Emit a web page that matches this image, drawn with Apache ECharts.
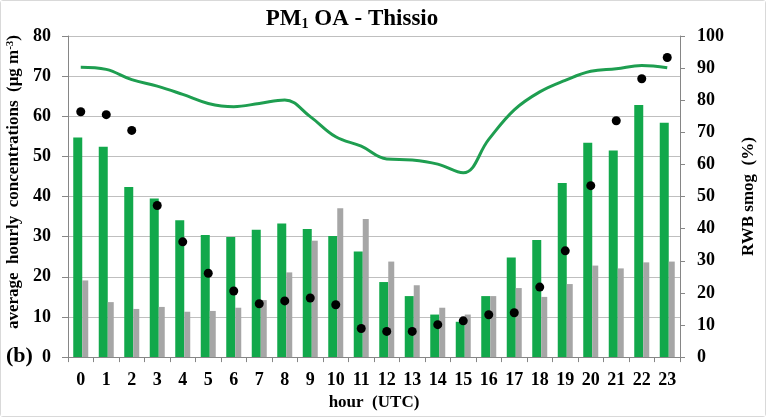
<!DOCTYPE html>
<html>
<head>
<meta charset="utf-8">
<script src="https://cdn.jsdelivr.net/npm/echarts@6/dist/echarts.min.js"></script>
<style>
html,body{margin:0;padding:0;background:#fff;}
#c{width:764px;height:415px;border:1px solid #d9d9d9;border-radius:3px;}
</style>
</head>
<body>
<div id="c"></div>
<script>
const hours = ['0','1','2','3','4','5','6','7','8','9','10','11','12','13','14','15','16','17','18','19','20','21','22','23'];
const greenBars = [54.7,52.4,42.4,39.5,34.1,30.4,29.9,31.7,33.3,31.9,30.2,26.3,18.7,15.2,10.6,8.8,15.2,24.8,29.2,43.4,53.4,51.5,62.8,58.4];
const grayBars = [19.1,13.7,12.0,12.5,11.3,11.5,12.3,14.2,21.1,29.0,37.1,34.4,23.8,17.9,12.3,10.6,15.2,17.2,15.0,18.2,22.8,22.1,23.6,23.8];
const rwbDots = [76.4,75.5,70.6,47.2,35.9,26.1,20.6,16.6,17.5,18.4,16.3,8.9,8.0,8.0,10.1,11.3,13.2,13.8,21.8,33.1,53.4,73.6,86.7,93.3];
const greenLine = [90.3,89.6,86.4,84.4,81.8,79.0,78.0,79.0,80.1,74.9,68.6,65.7,61.7,61.4,60.1,57.4,67.8,77.0,82.6,86.2,89.0,89.8,90.8,90.1];
const leftTicks = {min:0,max:80,interval:10};
const rightTicks = {min:0,max:100,interval:10};

const FONT = '"Liberation Serif","Times New Roman",serif';
const chart = echarts.init(document.getElementById('c'), null, {renderer:'canvas'});
const axisGray = '#868686';
chart.setOption({
  animation:false,
  backgroundColor:'#fff',
  title:{
    text:'{a|PM}{s|1}{a| OA - Thissio}',
    left:346, top:1, textAlign:'center',
    textStyle:{
      rich:{
        a:{fontFamily:FONT,fontWeight:'bold',fontSize:23,color:'#000'},
        s:{fontFamily:FONT,fontWeight:'bold',fontSize:14,color:'#000',padding:[10,0,0,0]}
      }
    }
  },
  grid:{left:67,right:83,top:35,bottom:56,containLabel:false},
  xAxis:{
    type:'category', data:hours,
    name:'hour  (UTC)', nameLocation:'middle', nameGap:36,
    nameTextStyle:{fontFamily:FONT,fontWeight:'bold',fontSize:17,color:'#000'},
    axisLine:{lineStyle:{color:axisGray}},
    axisTick:{show:true,length:5,lineStyle:{color:axisGray}},
    axisLabel:{fontFamily:FONT,fontWeight:'bold',fontSize:18,color:'#000',margin:14,interval:0}
  },
  yAxis:[
    {type:'value',min:leftTicks.min,max:leftTicks.max,interval:leftTicks.interval,
     axisLine:{show:true,lineStyle:{color:axisGray}},
     axisTick:{show:true,length:6,lineStyle:{color:axisGray}},
     axisLabel:{fontFamily:FONT,fontWeight:'bold',fontSize:18,color:'#000',margin:17},
     splitLine:{show:true,lineStyle:{color:'#bfbfbf',width:1}}
    },
    {type:'value',min:rightTicks.min,max:rightTicks.max,interval:rightTicks.interval,position:'right',
     name:'RWB smog  (%)', nameLocation:'middle', nameGap:60, nameRotate:90,
     nameTextStyle:{fontFamily:FONT,fontWeight:'bold',fontSize:17,color:'#000'},
     axisLine:{show:true,lineStyle:{color:axisGray}},
     axisTick:{show:true,length:5,lineStyle:{color:axisGray}},
     axisLabel:{fontFamily:FONT,fontWeight:'bold',fontSize:18,color:'#000',margin:17},
     splitLine:{show:false}
    }
  ],
  graphic:[
    {type:'text',x:13,y:181,rotation:Math.PI/2,
     style:{text:'{a|average  hourly  concentrations  }{a|(μg m}{p|-3}{a|)}',
       align:'center',verticalAlign:'middle',
       rich:{
         a:{fontFamily:FONT,fontWeight:'bold',fontSize:17,fill:'#000'},
         p:{fontFamily:FONT,fontWeight:'bold',fontSize:11,fill:'#000',padding:[0,0,8,0]}
       }}},
    {type:'text',x:5,y:344,
     style:{text:'(b)',fontFamily:FONT,fontWeight:'bold',fontSize:22,fill:'#000'}}
  ],
  series:[
    {type:'bar',data:greenBars,yAxisIndex:0,barWidth:9,barGap:'0%',
     itemStyle:{color:'#12a84b'}},
    {type:'bar',data:grayBars,yAxisIndex:0,barWidth:6,barGap:'0%',
     itemStyle:{color:'#a6a6a6'}},
    {type:'line',data:greenLine,yAxisIndex:1,smooth:0.4,showSymbol:false,symbol:'none',
     lineStyle:{color:'#1e9e50',width:3},z:3},
    {type:'scatter',data:rwbDots,yAxisIndex:1,symbolSize:9,
     itemStyle:{color:'#000',opacity:1},z:4}
  ]
});
</script>
</body>
</html>
